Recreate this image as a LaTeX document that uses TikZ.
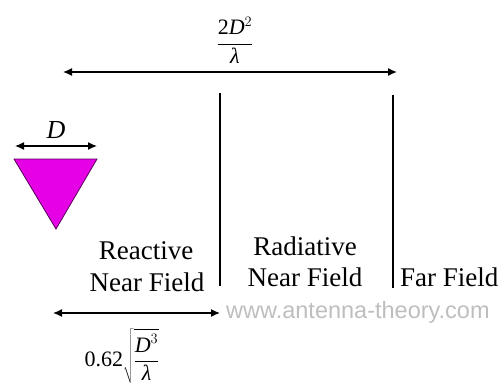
\documentclass[tikz,border=0pt]{standalone}
\usepackage{fontspec}
\setmainfont{Liberation Serif}
\newfontfamily\wmfont{Liberation Sans}
\usetikzlibrary{arrows.meta}
\definecolor{antmag}{RGB}{230,0,230}
\definecolor{antedge}{RGB}{90,0,90}
\definecolor{wmgray}{RGB}{190,190,190}
\tikzset{
  dimarrow/.style={line width=1.3pt,{Latex[length=9pt,width=8pt]}-{Latex[length=9pt,width=8pt]}},
  boundary/.style={line width=1.2pt},
  lbl/.style={inner sep=0pt,font=\fontsize{27}{30}\selectfont},
  mathlbl/.style={inner sep=0pt,font=\fontsize{22}{26}\selectfont},
}
\begin{document}
\begin{tikzpicture}[x=1pt,y=1pt]
\useasboundingbox (0,0) rectangle (502,-385);
% top dimension
\coordinate (tl) at (63,-72);
\coordinate (tr) at (397,-72);
\draw[dimarrow] (tl) -- (tr);
\node[mathlbl] (farfrac) at (235,-40) {$\displaystyle\frac{\mbox{2}\textit{D}^{2}}{\textit{λ}}$};
% boundaries
\coordinate (b1t) at (220,-93);
\coordinate (b1b) at (220,-286);
\coordinate (b2t) at (393,-95);
\coordinate (b2b) at (393,-288);
\draw[boundary] (b1t) -- (b1b);
\draw[boundary] (b2t) -- (b2b);
% antenna
\coordinate (dl) at (15,-146);
\coordinate (dr) at (97,-146);
\draw[dimarrow] (dl) -- (dr);
\node[inner sep=0pt,font=\fontsize{26}{30}\selectfont] (dlbl) at (56,-130) {\textit{D}};
\draw[fill=antmag,draw=antedge,line width=0.8pt] (14,-159) -- (97,-159) -- (56,-229) -- cycle;
% region labels
\node[lbl,anchor=base] (r1a) at (146,-259) {Reactive};
\node[lbl,anchor=base] (r1b) at (147,-291) {Near Field};
\node[lbl,anchor=base] (r2a) at (305,-255) {Radiative};
\node[lbl,anchor=base] (r2b) at (305,-286) {Near Field};
\node[lbl,anchor=base west] (r3) at (400,-286) {Far Field};
% bottom dimension
\coordinate (bl) at (53,-313);
\coordinate (br) at (220,-313);
\draw[dimarrow] (bl) -- (br);
\node[inner sep=0pt,anchor=base west,text=wmgray,font=\wmfont\fontsize{23.5}{26}\selectfont] (wm) at (226,-318) {www.antenna-theory.com};
\node[mathlbl] (nearfrac) at (122,-356) {$\mbox{0.62}\displaystyle\sqrt{\frac{\textit{D}^{3}}{\textit{λ}}}$};
\end{tikzpicture}
\end{document}
